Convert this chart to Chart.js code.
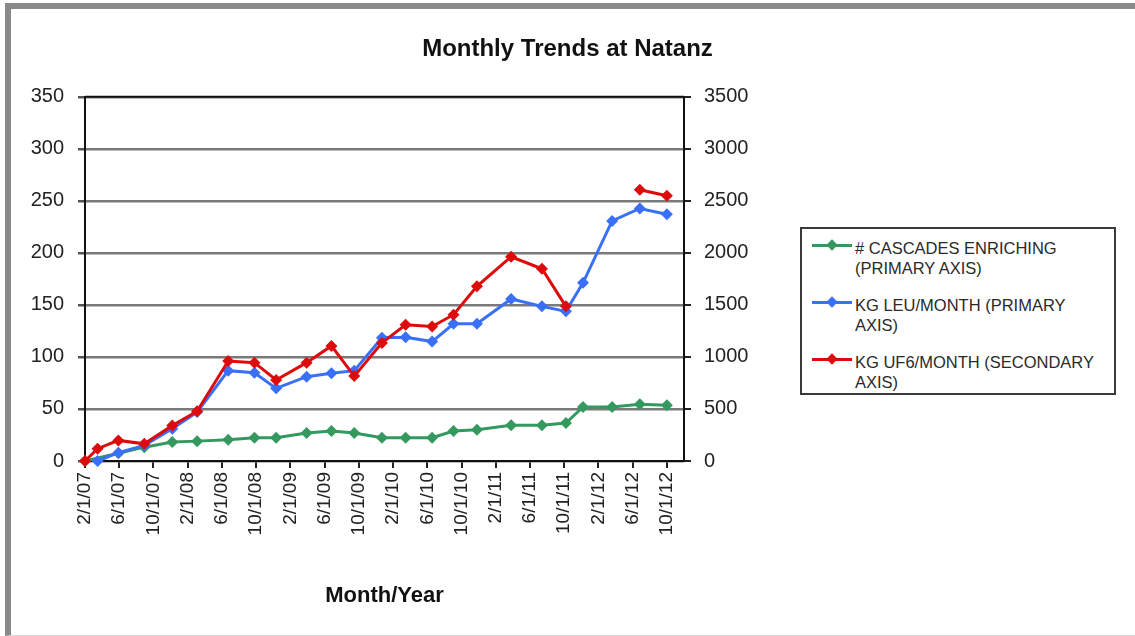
<!DOCTYPE html>
<html>
<head>
<meta charset="utf-8">
<script src="https://cdn.jsdelivr.net/npm/chart.js@4.4.1/dist/chart.umd.min.js"></script>
<style>
  body { margin: 0; background: #fff; font-family: 'Liberation Sans', Arial, sans-serif; }
  #frame { position: absolute; left: 5px; top: 3px; width: 1200px; height: 633px; box-sizing: border-box;
           border-top: 6px solid #8a8a8a; border-left: 6px solid #8a8a8a; border-bottom: 1px solid #d8d8d8; }
  #chart { position: absolute; left: 0; top: 0; }
  #legend { position: absolute; left: 800px; top: 227px; width: 316px; height: 168px; box-sizing: border-box;
            border: 2px solid #3a3a3a; background: #fff; }
  .item { position: absolute; left: 53px; font-size: 16.5px; line-height: 20px; color: #2a2a2a; white-space: nowrap; }
  .swatch { position: absolute; left: 10px; width: 40px; height: 3px; }
  .swatch i { position: absolute; left: 16px; top: -3px; width: 8px; height: 8px; transform: rotate(45deg); }
</style>
</head>
<body>
<div id="frame"></div>
<canvas id="chart" width="1135" height="636"></canvas>
<div id="legend"></div>
<script>
// dates of the data points (M/D/YY)
const reportDates = ['2/1/07', '3/15/07', '5/28/07', '8/29/07', '12/7/07', '3/4/08', '6/23/08', '9/25/08',
  '12/11/08', '3/28/09', '6/25/09', '9/15/09', '12/22/09', '3/15/10', '6/18/10', '9/3/10', '11/25/10',
  '3/25/11', '7/13/11', '10/7/11', '12/7/11', '3/19/12', '6/26/12', '10/1/12'];

const cascades = [0, null, 7.5, 13.3, 18.2, 19.1, 20.5, 22.4, 22.4, 26.9, 28.8, 26.9, 22.4, 22.4, 22.4,
  28.8, 30.1, 34.3, 34.3, 36.5, 52, 52, 54.6, 53.6];
const leuPerMonth = [null, 0, 8, 15, 31, 47, 86.8, 84.8, 69.8, 81, 84.3, 86.8, 118.5, 119, 114.8,
  131.9, 131.9, 155.7, 148.6, 143.8, 171.2, 230.7, 242.7, 237.2];
const uf6PerMonth = [0, 118, 198, 165, 340, 478, 961, 945, 778, 945, 1106, 816, 1135, 1309, 1293,
  1406, 1679, 1963, 1847, 1486, null, null, 2607, 2549];

const xTickLabels = ['2/1/07', '6/1/07', '10/1/07', '2/1/08', '6/1/08', '10/1/08', '2/1/09', '6/1/09',
  '10/1/09', '2/1/10', '6/1/10', '10/1/10', '2/1/11', '6/1/11', '10/1/11', '2/1/12', '6/1/12', '10/1/12'];
const xStart = '2/1/07';
const xEnd = '12/1/12';

const seriesNames = [
  ['# CASCADES ENRICHING', '(PRIMARY AXIS)'],
  ['KG LEU/MONTH (PRIMARY', 'AXIS)'],
  ['KG UF6/MONTH (SECONDARY', 'AXIS)']
];
const seriesColors = ['#34995f', '#3a70f7', '#dd0b0b'];

const FONT = "'Liberation Sans', Arial, sans-serif";

// months since 2/1/07
function monthIndex(s) {
  const [m, d, y] = s.split('/').map(Number);
  return (y - 7) * 12 + (m - 2) + (d - 1) / 30;
}

function points(values) {
  return reportDates.map((d, i) => ({x: monthIndex(d), y: values[i]}));
}

function series(i, values, axis, order, spanGaps) {
  return {
    label: seriesNames[i].join(' '),
    data: points(values),
    yAxisID: axis,
    order: order,
    spanGaps: spanGaps,
    borderColor: seriesColors[i],
    backgroundColor: seriesColors[i],
    borderWidth: 3,
    pointStyle: 'rectRot',
    pointRadius: 6,
    pointHoverRadius: 6,
    pointBorderWidth: 0,
    tension: 0,
    clip: false
  };
}

const topLine = {
  id: 'topLine',
  beforeDatasetsDraw(chart) {
    const {ctx, chartArea} = chart;
    ctx.save();
    ctx.strokeStyle = '#111';
    ctx.lineWidth = 2;
    ctx.beginPath();
    ctx.moveTo(chartArea.left, chartArea.top);
    ctx.lineTo(chartArea.right, chartArea.top);
    ctx.stroke();
    ctx.restore();
  }
};

const chart = new Chart(document.getElementById('chart').getContext('2d'), {
  type: 'line',
  data: {
    datasets: [
      series(0, cascades, 'y', 2, true),
      series(1, leuPerMonth, 'y', 1, true),
      series(2, uf6PerMonth, 'y1', 0, false)
    ]
  },
  plugins: [topLine],
  options: {
    responsive: false,
    animation: false,
    events: [],
    layout: {padding: 0},
    plugins: {
      legend: {display: false},
      tooltip: {enabled: false},
      title: {
        display: true,
        text: 'Monthly Trends at Natanz',
        color: '#111',
        font: {family: FONT, size: 24, weight: 'bold'},
        padding: {top: 35, bottom: 33}
      }
    },
    scales: {
      x: {
        type: 'linear',
        min: monthIndex(xStart),
        max: monthIndex(xEnd),
        afterBuildTicks(scale) {
          scale.ticks = xTickLabels.map(l => ({value: monthIndex(l)}));
        },
        afterFit(scale) { scale.height = 175; },
        grid: {drawOnChartArea: false, drawTicks: true, tickLength: 7, color: '#222', lineWidth: 2},
        border: {color: '#111', width: 2},
        ticks: {
          autoSkip: false,
          minRotation: 90,
          maxRotation: 90,
          padding: 4,
          color: '#222',
          font: {family: FONT, size: 19},
          callback: (value, index) => xTickLabels[index]
        },
        title: {
          display: true,
          text: 'Month/Year',
          color: '#111',
          font: {family: FONT, size: 22, weight: 'bold'},
          padding: {top: 0, bottom: 27}
        }
      },
      y: {
        position: 'left',
        min: 0,
        max: 350,
        afterFit(scale) { scale.width = 85; },
        grid: {color: '#7a7a7a', lineWidth: 2.5, tickLength: 7, tickColor: '#555'},
        border: {color: '#111', width: 2},
        ticks: {stepSize: 50, padding: 14, color: '#222', font: {family: FONT, size: 20}}
      },
      y1: {
        position: 'right',
        min: 0,
        max: 3500,
        afterFit(scale) { scale.width = 451; },
        grid: {drawOnChartArea: false, tickLength: 7, color: '#222', lineWidth: 2},
        border: {color: '#111', width: 2},
        ticks: {
          stepSize: 500, padding: 13, color: '#222', font: {family: FONT, size: 20},
          callback: v => String(v)
        }
      }
    }
  }
});

// legend box with two-line labels
const legend = document.getElementById('legend');
chart.data.datasets.forEach((ds, i) => {
  const top = 9 + i * 57;
  const sw = document.createElement('div');
  sw.className = 'swatch';
  sw.style.top = (top + 6) + 'px';
  sw.style.background = ds.borderColor;
  const dot = document.createElement('i');
  dot.style.background = ds.borderColor;
  sw.appendChild(dot);
  legend.appendChild(sw);

  const txt = document.createElement('div');
  txt.className = 'item';
  txt.style.top = top + 'px';
  txt.innerHTML = seriesNames[i].join('<br>');
  legend.appendChild(txt);
});
</script>
</body>
</html>
